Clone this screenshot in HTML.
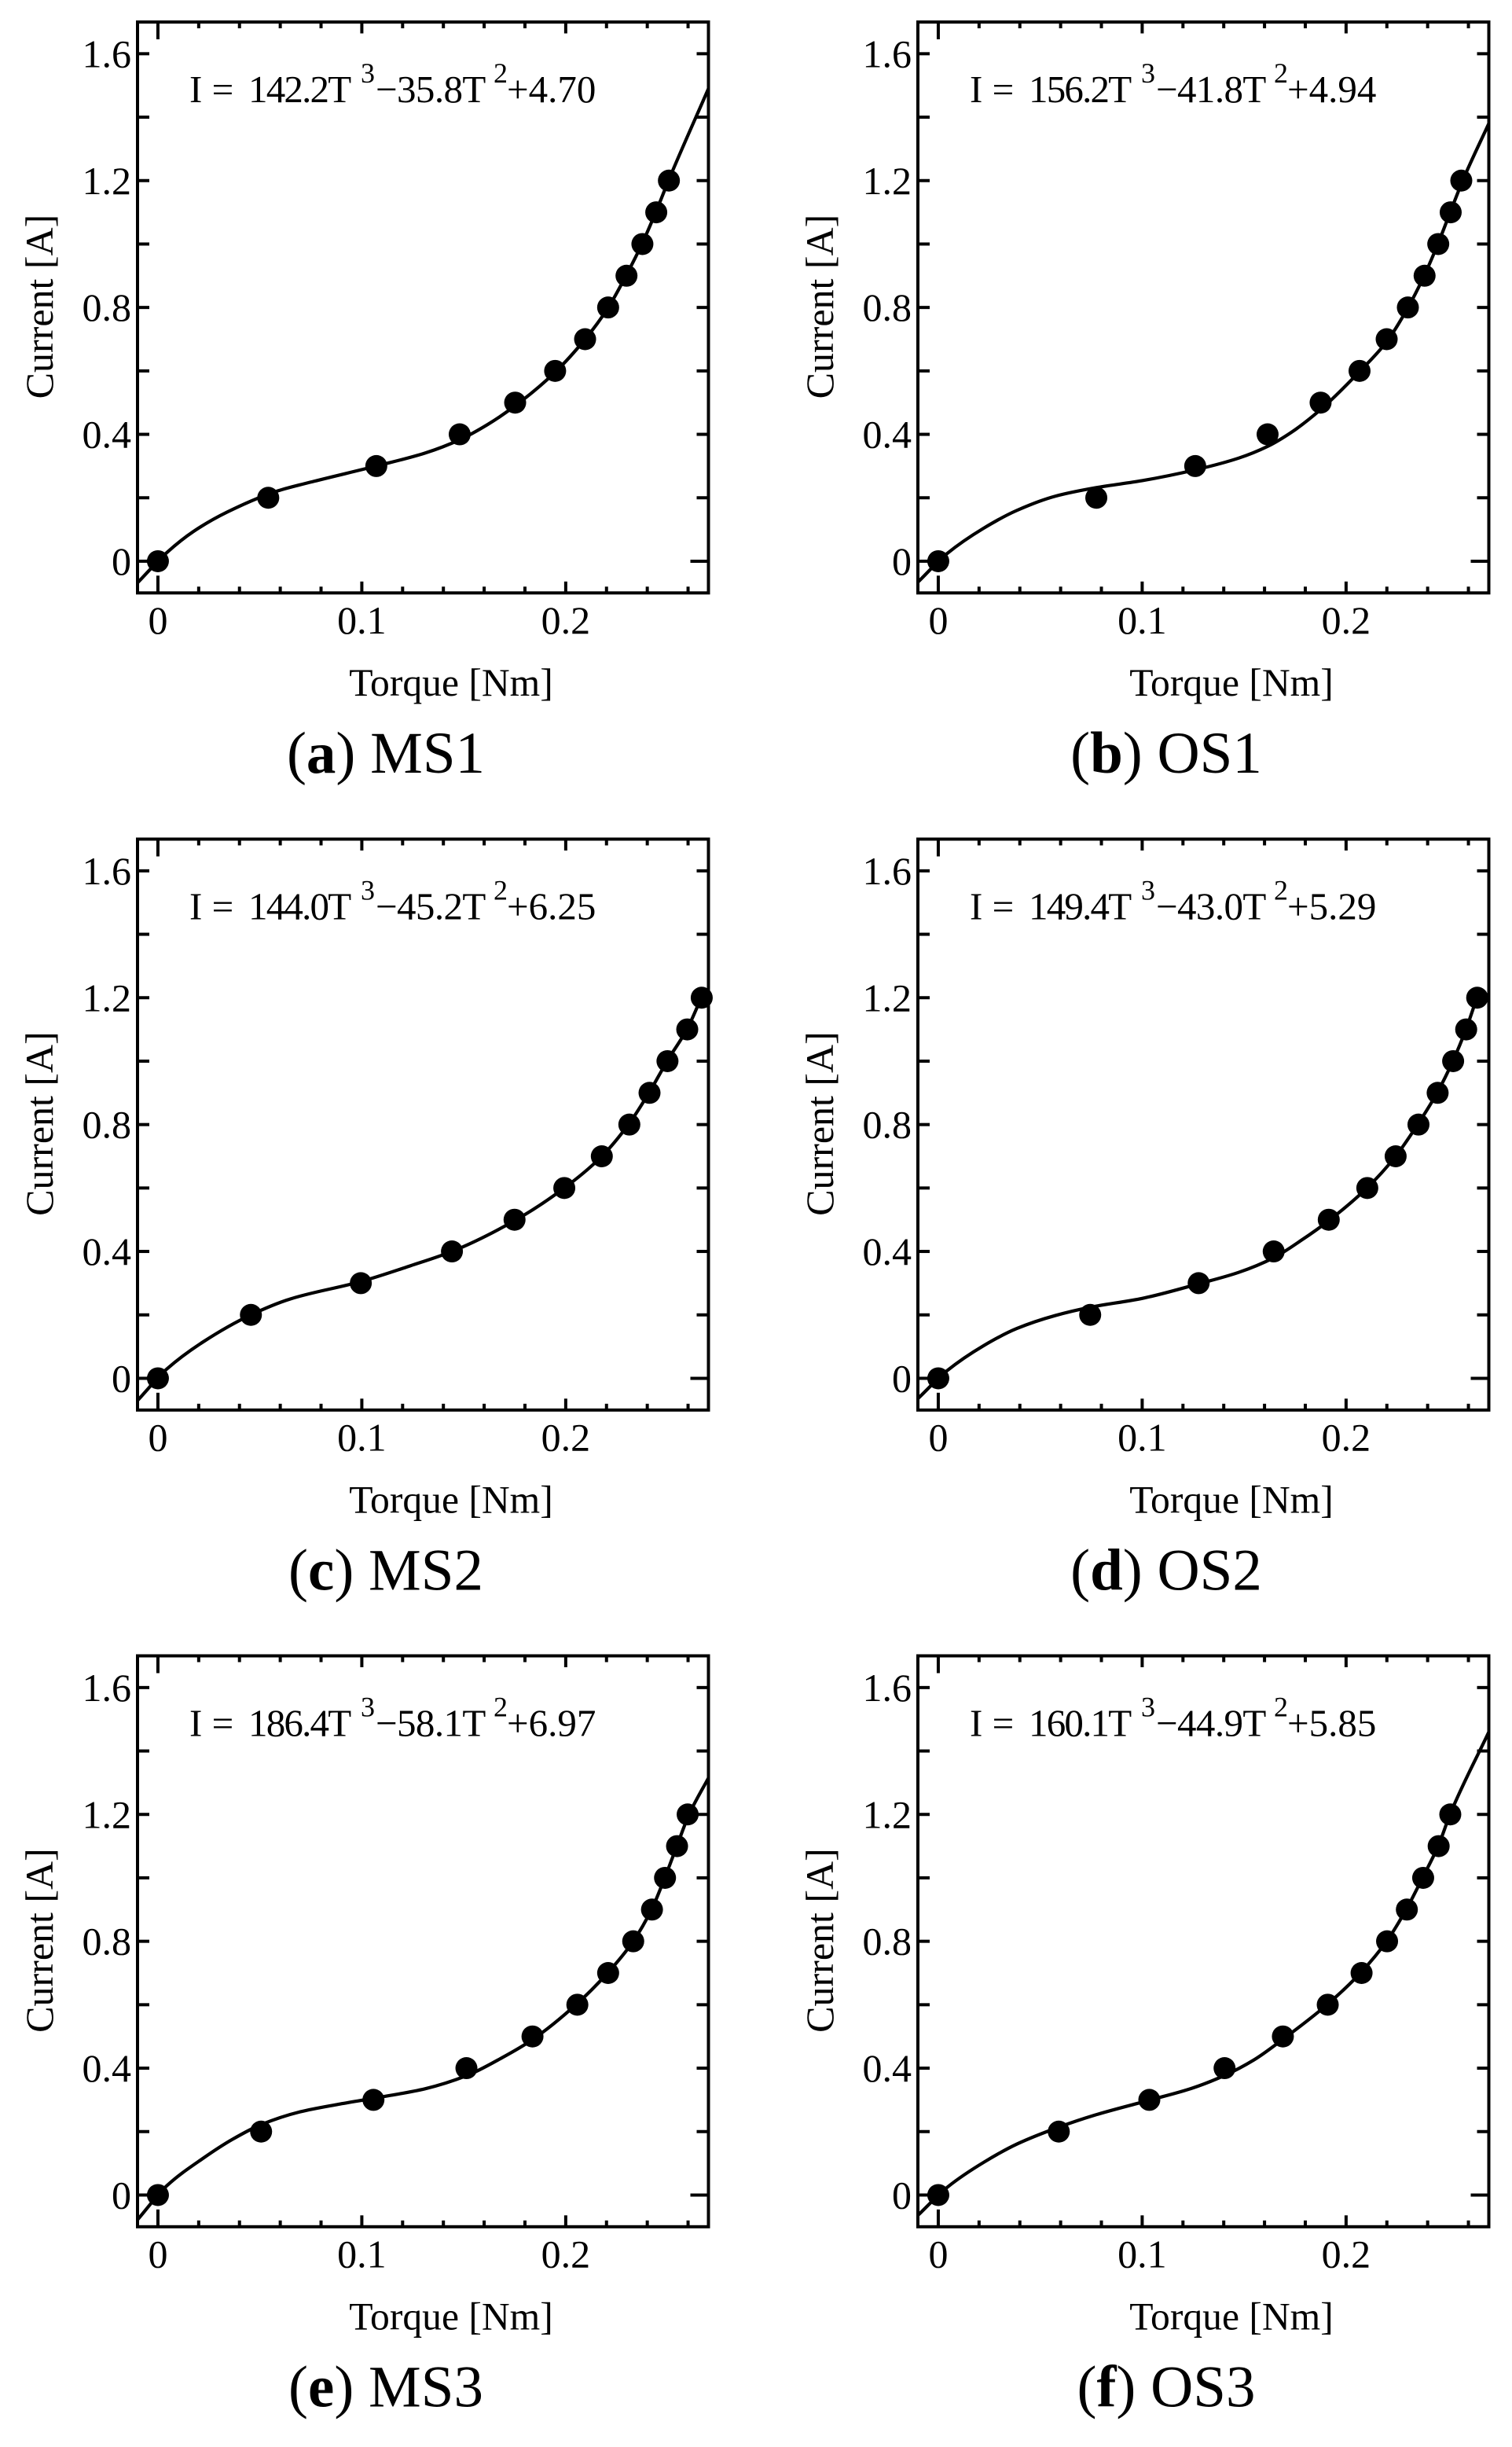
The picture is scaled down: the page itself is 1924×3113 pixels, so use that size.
<!DOCTYPE html>
<html lang="en">
<head>
<meta charset="utf-8">
<title>Current versus torque fits</title>
<style>
html,body{margin:0;padding:0;background:#fff;}
body{width:1924px;height:3113px;overflow:hidden;}
svg{display:block;}
text{font-family:"Liberation Serif",serif;fill:#000;}
</style>
</head>
<body>
<svg id="figure" xmlns="http://www.w3.org/2000/svg" width="1924" height="3113" viewBox="0 0 1924 3113"></svg>
<script>
// Shared tick labels and measured current levels
const xMajorTicks = [0, 0.1, 0.2];
const xTickLabels = ["0", "0.1", "0.2"];
const xMinorTicks = [0.02, 0.04, 0.06, 0.08, 0.12, 0.14, 0.16, 0.18, 0.22, 0.24, 0.26];
const yTicks = [0, 0.2, 0.4, 0.6, 0.8, 1.0, 1.2, 1.4, 1.6];
const yLabelTicks = [0, 0.4, 0.8, 1.2, 1.6];
const yTickLabels = ["0", "0.4", "0.8", "1.2", "1.6"];
const measuredCurrent = [0, 0.2, 0.3, 0.4, 0.5, 0.6, 0.7, 0.8, 0.9, 1.0, 1.1, 1.2];

// Measured torque for each motor
const torqueMS1 = [0, 0.0541, 0.1071, 0.148, 0.1752, 0.1948, 0.2095, 0.2208, 0.2298, 0.2376, 0.2444, 0.2506];
const torqueOS1 = [0, 0.0775, 0.126, 0.1615, 0.1875, 0.2066, 0.2199, 0.2303, 0.2385, 0.2452, 0.2513, 0.2565];
const torqueMS2 = [0, 0.0456, 0.0995, 0.1442, 0.1749, 0.1993, 0.2177, 0.2312, 0.2411, 0.2499, 0.2596, 0.2667];
const torqueOS2 = [0, 0.0745, 0.1277, 0.1645, 0.1915, 0.2104, 0.2243, 0.2355, 0.2449, 0.2525, 0.2589, 0.2643];
const torqueMS3 = [0, 0.0506, 0.1057, 0.1513, 0.1837, 0.2057, 0.2208, 0.2331, 0.2423, 0.2487, 0.2546, 0.2598];
const torqueOS3 = [0, 0.0591, 0.1035, 0.1404, 0.169, 0.191, 0.2076, 0.2201, 0.2298, 0.2378, 0.2454, 0.2511];

// Fitted curves
const fitTorqueMS1 = [-0.01, 0.0045, 0.0175, 0.034, 0.0589, 0.0766, 0.107, 0.131, 0.148, 0.1617, 0.1752, 0.1948, 0.2095, 0.2208, 0.2298, 0.2376, 0.2444, 0.2506, 0.27];
const fitCurrentMS1 = [-0.068, 0.028, 0.094, 0.155, 0.222, 0.252, 0.3, 0.341, 0.383, 0.431, 0.49, 0.596, 0.7, 0.799, 0.903, 1.003, 1.104, 1.203, 1.49];
const fitTorqueOS1 = [-0.01, 0.0043, 0.022, 0.0385, 0.0574, 0.0775, 0.1, 0.126, 0.1473, 0.1615, 0.1733, 0.1875, 0.2066, 0.2199, 0.2303, 0.2385, 0.2452, 0.2513, 0.2574, 0.27];
const fitCurrentOS1 = [-0.066, 0.024, 0.103, 0.16, 0.205, 0.232, 0.254, 0.288, 0.325, 0.362, 0.407, 0.478, 0.598, 0.692, 0.799, 0.903, 1.003, 1.104, 1.203, 1.38];
const fitTorqueMS2 = [-0.01, 0.0045, 0.0222, 0.0456, 0.0648, 0.0995, 0.1239, 0.1442, 0.1749, 0.1993, 0.2177, 0.2312, 0.2411, 0.2499, 0.2596, 0.2667];
const fitCurrentMS2 = [-0.07, 0.03, 0.115, 0.2, 0.25, 0.305, 0.355, 0.4, 0.497, 0.6, 0.7, 0.804, 0.903, 1.002, 1.102, 1.203];
const fitTorqueOS2 = [-0.01, 0.0043, 0.022, 0.0385, 0.0574, 0.0745, 0.1, 0.1277, 0.1473, 0.1645, 0.178, 0.1915, 0.2104, 0.2243, 0.2355, 0.2449, 0.2525, 0.2589, 0.2643];
const fitCurrentOS2 = [-0.064, 0.024, 0.102, 0.157, 0.198, 0.224, 0.252, 0.298, 0.334, 0.38, 0.435, 0.497, 0.601, 0.7, 0.804, 0.903, 1.002, 1.102, 1.203];
const fitTorqueMS3 = [-0.01, 0.0045, 0.0222, 0.0364, 0.0506, 0.0695, 0.0884, 0.1057, 0.131, 0.1513, 0.1688, 0.1837, 0.2057, 0.2208, 0.2331, 0.2423, 0.2487, 0.2546, 0.2605, 0.27];
const fitCurrentMS3 = [-0.078, 0.03, 0.116, 0.175, 0.222, 0.262, 0.286, 0.305, 0.335, 0.376, 0.433, 0.49, 0.604, 0.702, 0.8, 0.903, 1.002, 1.102, 1.2, 1.315];
const fitTorqueOS3 = [-0.01, 0.0047, 0.0225, 0.039, 0.0591, 0.0768, 0.1035, 0.1241, 0.1404, 0.1548, 0.169, 0.191, 0.2076, 0.2201, 0.2298, 0.2378, 0.2454, 0.2511, 0.27];
const fitCurrentOS3 = [-0.064, 0.026, 0.104, 0.162, 0.214, 0.252, 0.299, 0.336, 0.377, 0.426, 0.491, 0.602, 0.704, 0.802, 0.904, 1.004, 1.104, 1.202, 1.46];

// Printed coefficients of each fit equation
const eqCubic = ["142.2", "156.2", "144.0", "149.4", "186.4", "160.1"];
const eqQuadratic = ["35.8", "41.8", "45.2", "43.0", "58.1", "44.9"];
const eqLinear = ["4.70", "4.94", "6.25", "5.29", "6.97", "5.85"];

const panelLetters = ["a", "b", "c", "d", "e", "f"];
const panelMotors = ["MS1", "OS1", "MS2", "OS2", "MS3", "OS3"];
const panelTorque = [torqueMS1, torqueOS1, torqueMS2, torqueOS2, torqueMS3, torqueOS3];
const panelFitTorque = [fitTorqueMS1, fitTorqueOS1, fitTorqueMS2, fitTorqueOS2, fitTorqueMS3, fitTorqueOS3];
const panelFitCurrent = [fitCurrentMS1, fitCurrentOS1, fitCurrentMS2, fitCurrentOS2, fitCurrentMS3, fitCurrentOS3];

const columnLefts = [175, 1168];
const rowTops = [28, 1067.5, 2106.5];
const FRAME_W = 726.5, FRAME_H = 726.3;
const X_MIN = -0.01, X_MAX = 0.27, Y_MIN = -0.1, Y_MAX = 1.7;
const NS = "http://www.w3.org/2000/svg";
const figure = document.getElementById("figure");

function make(tag, parent, attrs) {
  const node = document.createElementNS(NS, tag);
  for (const key in attrs) node.setAttribute(key, attrs[key]);
  parent.appendChild(node);
  return node;
}

function monotonePath(xs, ys) {
  const n = xs.length, d = [], m = [];
  for (let i = 0; i < n - 1; i++) d.push((ys[i + 1] - ys[i]) / (xs[i + 1] - xs[i]));
  m.push(d[0]);
  for (let i = 1; i < n - 1; i++) {
    if (d[i - 1] * d[i] <= 0) { m.push(0); continue; }
    const h0 = xs[i] - xs[i - 1], h1 = xs[i + 1] - xs[i];
    const w0 = 2 * h1 + h0, w1 = h1 + 2 * h0;
    m.push((w0 + w1) / (w0 / d[i - 1] + w1 / d[i]));
  }
  m.push(d[n - 2]);
  let path = "M" + xs[0].toFixed(2) + " " + ys[0].toFixed(2);
  for (let i = 0; i < n - 1; i++) {
    const h = (xs[i + 1] - xs[i]) / 3;
    path += "C" + (xs[i] + h).toFixed(2) + " " + (ys[i] + m[i] * h).toFixed(2) + " " +
      (xs[i + 1] - h).toFixed(2) + " " + (ys[i + 1] - m[i + 1] * h).toFixed(2) + " " +
      xs[i + 1].toFixed(2) + " " + ys[i + 1].toFixed(2);
  }
  return path;
}

function drawPanel(index) {
  const left = columnLefts[index % 2];
  const top = rowTops[Math.floor(index / 2)];
  const right = left + FRAME_W;
  const bottom = top + FRAME_H;
  const motor = panelMotors[index].toLowerCase();
  const xScale = function (v) { return left + (v - X_MIN) / (X_MAX - X_MIN) * FRAME_W; };
  const yScale = function (v) { return bottom - (v - Y_MIN) / (Y_MAX - Y_MIN) * FRAME_H; };

  const panel = make("g", figure, {});
  
  

  const clip = make("clipPath", panel, { id: "clip-" + motor });
  make("rect", clip, { x: left, y: top, width: FRAME_W, height: FRAME_H });

  const ticks = make("g", panel, { stroke: "#000", "stroke-width": 4, fill: "none" });
  
  
  xMinorTicks.forEach(function (t) {
    const x = xScale(t);
    make("line", ticks, { x1: x, x2: x, y1: top, y2: top + 8 });
    make("line", ticks, { x1: x, x2: x, y1: bottom, y2: bottom - 8 });
  });
  xMajorTicks.forEach(function (t) {
    const x = xScale(t);
    const length = t === 0 ? 22 : 14.5;
    make("line", ticks, { x1: x, x2: x, y1: top, y2: top + length });
    make("line", ticks, { x1: x, x2: x, y1: bottom, y2: bottom - length });
  });
  yTicks.forEach(function (t) {
    const y = yScale(t);
    make("line", ticks, { x1: left, x2: left + 15, y1: y, y2: y });
    make("line", ticks, { x1: right, x2: right - (t === 0 ? 23 : 15), y1: y, y2: y });
  });

  const fitLine = make("path", panel, {
    d: monotonePath(panelFitTorque[index].map(xScale), panelFitCurrent[index].map(yScale)),
    fill: "none", stroke: "#000", "stroke-width": 4.2, "clip-path": "url(#clip-" + motor + ")"
  });
  
  

  measuredCurrent.forEach(function (current, i) {
    const dot = make("circle", panel, {
      cx: xScale(panelTorque[index][i]), cy: yScale(current), r: 14, fill: "#000"
    });
    
    
  });

  const frame = make("rect", panel, {
    x: left, y: top, width: FRAME_W, height: FRAME_H, fill: "none", stroke: "#000", "stroke-width": 4
  });
  
  

  xMajorTicks.forEach(function (t, i) {
    const label = make("text", panel, { x: xScale(t), y: top + 778, "font-size": 50, "text-anchor": "middle" });
    label.textContent = xTickLabels[i];
    
    
  });
  yLabelTicks.forEach(function (t, i) {
    const label = make("text", panel, { x: left - 8, y: yScale(t) + 17, "font-size": 50, "text-anchor": "end" });
    label.textContent = yTickLabels[i];
    
    
  });

  const xTitle = make("text", panel, { x: left + 399, y: top + 857, "font-size": 49.6, "text-anchor": "middle" });
  xTitle.textContent = "Torque [Nm]";
  
  

  const yTitle = make("text", panel, {
    x: left - 108, y: top + 362, "font-size": 50, "text-anchor": "middle",
    transform: "rotate(-90 " + (left - 108) + " " + (top + 362) + ")"
  });
  yTitle.textContent = "Current [A]";
  
  

  const baseline = top + 102;
  const equation = make("text", panel, { y: baseline, "font-size": 49 });
  
  
  make("tspan", equation, { x: left + 66, y: baseline }).textContent = "I =";
  make("tspan", equation, { x: left + 141, y: baseline, "letter-spacing": -1.8 }).textContent = eqCubic[index] + "T";
  make("tspan", equation, { x: left + 284, y: baseline - 25, "font-size": 36 }).textContent = "3";
  make("tspan", equation, { x: left + 303, y: baseline, "letter-spacing": -0.6 }).textContent = "\u2212" + eqQuadratic[index] + "T";
  make("tspan", equation, { x: left + 453, y: baseline - 25, "font-size": 36 }).textContent = "2";
  make("tspan", equation, { x: left + 470, y: baseline }).textContent = "+" + eqLinear[index];

  const caption = make("text", panel, { x: left + 316, y: top + 955, "font-size": 75, "text-anchor": "middle" });
  
  
  make("tspan", caption, {}).textContent = "(";
  make("tspan", caption, { "font-weight": "bold" }).textContent = panelLetters[index];
  make("tspan", caption, {}).textContent = ") " + panelMotors[index];
}

panelMotors.forEach(function (motor, index) { drawPanel(index); });
</script>
</body>
</html>
